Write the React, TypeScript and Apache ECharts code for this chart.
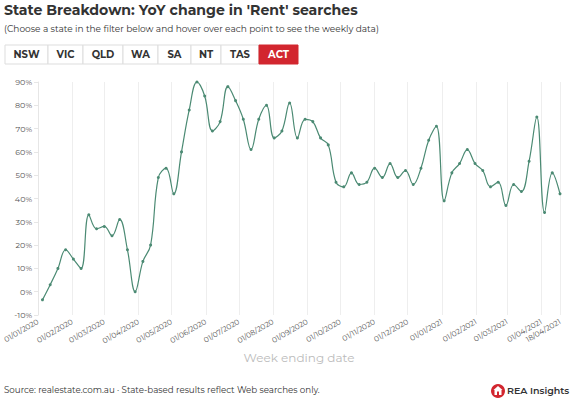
import React, { useEffect, useRef } from "react";
import * as echarts from "echarts";

const titleText = "State Breakdown: YoY change in 'Rent' searches";
const subtitleText = "(Choose a state in the filter below and hover over each point to see the weekly data)";
const states = ["NSW", "VIC", "QLD", "WA", "SA", "NT", "TAS", "ACT"];
const activeState = "ACT";
const firstWeekEnding = "05/01/2020";
const yoyChange = [
  -3.5, 3, 10, 18, 14, 10, 33, 27, 28, 24, 31, 18, 0, 13, 20, 49, 53, 42, 60, 78, 90,
  84, 69, 73, 88, 82, 74, 61, 74, 80, 66, 69, 81, 66, 74, 73, 66, 63, 47, 45, 51, 46, 47, 53, 49, 55,
  49, 52, 46, 53, 65, 71, 39, 51, 55, 61, 55, 52, 45, 47, 37, 46, 43, 56, 75, 34, 51, 42,
];
const tickLabels = [
  "01/01/2020", "01/02/2020", "01/03/2020", "01/04/2020", "01/05/2020", "01/06/2020",
  "01/07/2020", "01/08/2020", "01/09/2020", "01/10/2020", "01/11/2020", "01/12/2020",
  "01/01/2021", "01/02/2021", "01/03/2021", "01/04/2021", "18/04/2021",
];
const xAxisName = "Week ending date";
const sourceText = "Source: realestate.com.au \u00b7 State-based results reflect Web searches only.";
const brandText = "REA Insights";

const FONT = "Montserrat, 'Open Sans', sans-serif";

function parseDMY(s: string): number {
  const [d, m, y] = s.split("/").map(Number);
  return new Date(y, m - 1, d).getTime();
}
function fmtDMY(t: number): string {
  const d = new Date(t);
  const p = (n: number) => (n < 10 ? "0" + n : "" + n);
  return p(d.getDate()) + "/" + p(d.getMonth() + 1) + "/" + d.getFullYear();
}

export default function App() {
  const ref = useRef<HTMLDivElement>(null);
  useEffect(() => {
    document.body.style.margin = "0";
    const chart = echarts.init(ref.current!, undefined, { renderer: "svg" });
    const start = parseDMY(firstWeekEnding);
    const startDate = new Date(start);
    const seriesData = yoyChange.map((v, i) => {
      const d = new Date(startDate.getFullYear(), startDate.getMonth(), startDate.getDate() + 7 * i);
      return [d.getTime(), v];
    });
    const ticks = tickLabels.map(parseDMY);

    const btnX = [5, 48, 83, 123, 158, 191, 221, 259, 298];
    const btnY = 45, btnH = 19;
    const graphics: any[] = [
      {
        type: "text", left: 4, top: 3,
        style: { text: titleText, font: `700 14.1px ${FONT}`, fill: "#333333" },
      },
      {
        type: "text", left: 4, top: 24,
        style: { text: subtitleText, font: `400 9px ${FONT}`, fill: "#333333" },
      },
    ];
    states.forEach((s, i) => {
      const active = s === activeState;
      graphics.push({
        type: "rect",
        shape: { x: btnX[i], y: btnY, width: btnX[i + 1] - btnX[i], height: btnH, r: 0 },
        style: { fill: active ? "#d2262f" : "#ffffff", stroke: active ? "#d2262f" : "#dddddd", lineWidth: 1 },
      });
      graphics.push({
        type: "text",
        x: (btnX[i] + btnX[i + 1]) / 2, y: btnY + btnH / 2,
        style: {
          text: s, font: `700 10px ${FONT}`, fill: active ? "#ffffff" : "#333333",
          textAlign: "center", textVerticalAlign: "middle",
        },
      });
    });
    graphics.push({
      type: "text", left: 4, top: 385,
      style: { text: sourceText, font: `400 8.7px ${FONT}`, fill: "#333333" },
    });
    graphics.push({
      type: "circle", shape: { cx: 498, cy: 391, r: 7 }, style: { fill: "#d2262f" },
    });
    graphics.push({
      type: "polygon",
      shape: { points: [[498, 386], [502.5, 390], [501.5, 390], [501.5, 395], [494.5, 395], [494.5, 390], [493.5, 390]] },
      style: { fill: "#ffffff" },
    });
    graphics.push({
      type: "rect", shape: { x: 497, y: 391.5, width: 2, height: 3.5 }, style: { fill: "#d2262f" },
    });
    graphics.push({
      type: "text", left: 507, top: 385,
      style: { text: brandText, font: `600 9.5px ${FONT}`, fill: "#333333" },
    });

    chart.setOption({
      animation: false,
      backgroundColor: "#ffffff",
      textStyle: { fontFamily: FONT },
      grid: { left: 32, right: 13, top: 82, bottom: 86, containLabel: false },
      xAxis: {
        type: "value",
        min: ticks[0],
        max: ticks[ticks.length - 1],
        name: xAxisName,
        nameLocation: "middle",
        nameGap: 36,
        nameTextStyle: { color: "#bbbbbb", fontSize: 12, fontFamily: FONT },
        axisLine: { show: false },
        axisTick: { show: false, customValues: ticks },
        splitLine: { show: true, lineStyle: { color: "#eeeeee", width: 1 } },
        axisLabel: {
          customValues: ticks,
          rotate: 30,
          fontSize: 7.5,
          color: "#555555",
          margin: 6,
          formatter: (v: number) => fmtDMY(v),
          hideOverlap: false,
          showMinLabel: true,
          showMaxLabel: true,
        },
      },
      yAxis: {
        type: "value",
        min: -10,
        max: 90,
        interval: 10,
        axisLine: { show: true, lineStyle: { color: "#e6e6e6" } },
        axisTick: { show: true, length: 4, lineStyle: { color: "#e6e6e6" } },
        splitLine: { show: false },
        axisLabel: { formatter: "{value}%", fontSize: 8, color: "#555555", margin: 6 },
      },
      series: [
        {
          type: "line",
          data: seriesData,
          smooth: 0.4,
          symbol: "circle",
          symbolSize: 3,
          itemStyle: { color: "#4b8a73" },
          lineStyle: { color: "#4b8a73", width: 1.2 },
        },
      ],
      graphic: graphics,
    });
    return () => chart.dispose();
  }, []);
  return <div ref={ref} style={{ position: "absolute", left: 0, top: 0, width: 573, height: 401 }} />;
}
